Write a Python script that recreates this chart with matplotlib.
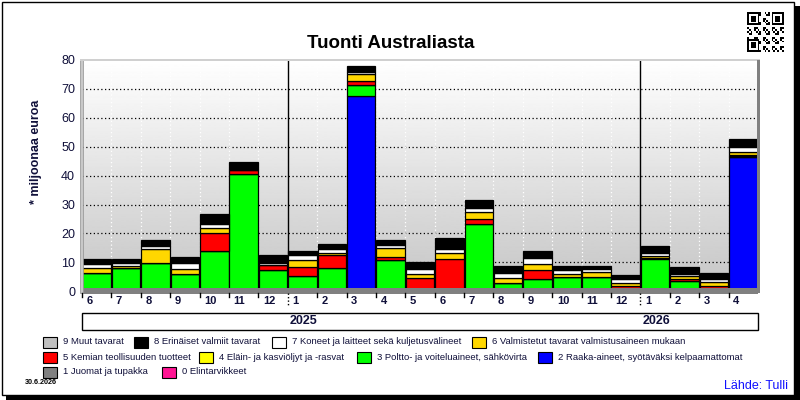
import numpy as np
import matplotlib
matplotlib.use("Agg")
import matplotlib.pyplot as plt
from matplotlib.patches import Rectangle
from matplotlib.lines import Line2D


# kuukaudet 6/2024 - 4/2026
months = [6, 7, 8, 9, 10, 11, 12, 1, 2, 3, 4, 5, 6, 7, 8, 9, 10, 11, 12, 1, 2, 3, 4]
year_labels = ["2025", "2026"]
year_start_index = [7, 19]

# milj. euroa, luettu kuvasta
raaka_aineet = [0, 0, 0, 0, 0, 0, 0, 0, 0, 67.7, 0, 0, 0, 0, 0, 0, 0, 0, 0, 0, 0, 0, 46.4]
poltto = [6.3, 8.0, 9.8, 6.0, 13.9, 40.6, 7.5, 5.4, 8.1, 3.7, 10.7, 0, 0, 23.4, 2.9, 4.3,
          4.8, 4.9, 0, 11.2, 3.4, 0, 0]
elain = [0, 0, 0, 0, 0, 0, 0, 0, 0, 0, 0, 0, 0, 0, 0, 0, 0, 0, 0, 0.3, 0, 0, 0.3]
kemian = [0, 0, 0, 0, 6.4, 1.3, 1.7, 3.0, 4.3, 1.5, 1.2, 4.6, 11.0, 1.5, 0, 2.9,
          0, 0, 2.0, 0, 0.9, 1.9, 0.5]
valmistetut = [1.8, 0.6, 4.9, 1.7, 1.7, 0, 0, 2.3, 1.0, 2.3, 3.2, 1.5, 2.3, 2.7, 1.7, 2.3,
               1.2, 1.9, 0.9, 0.6, 0.9, 1.3, 1.0]
koneet = [1.4, 1.2, 0.9, 2.0, 1.2, 0.4, 0.6, 1.7, 1.1, 0.6, 0.9, 1.6, 1.2, 1.1, 1.7, 1.9,
          1.2, 0.9, 1.5, 1.2, 0.9, 1.2, 1.7]
erinaiset = [1.8, 1.3, 2.0, 2.3, 3.7, 2.5, 2.9, 1.4, 1.7, 2.0, 1.6, 2.6, 4.1, 2.8, 2.5, 2.4,
             1.4, 0.9, 1.2, 2.5, 2.4, 2.0, 2.9]

series = [
    (raaka_aineet, "#0000FF"),
    (poltto, "#00FF00"),
    (elain, "#FFFF00"),
    (kemian, "#FF0000"),
    (valmistetut, "#FFD700"),
    (koneet, "#FFFFFF"),
    (erinaiset, "#000000"),
]

legend_names = [
    "9 Muut tavarat", "8 Erinäiset valmiit tavarat",
    "7 Koneet ja laitteet sekä kuljetusvälineet", "6 Valmistetut tavarat valmistusaineen mukaan",
    "5 Kemian teollisuuden tuotteet", "4 Eläin- ja kasviöljyt ja -rasvat",
    "3 Poltto- ja voiteluaineet, sähkövirta", "2 Raaka-aineet, syötäväksi kelpaamattomat",
    "1 Juomat ja tupakka", "0 Elintarvikkeet",
]
legend_colors = [
    "#C0C0C0", "#000000", "#FFFFFF", "#FFD700",
    "#FF0000", "#FFFF00", "#00FF00", "#0000FF",
    "#808080", "#FF1493",
]
# legendan paikat pikseleinä (vasen reuna, rivin keskikohta)
legend_x = [43, 134, 272, 472, 43, 199, 357, 538, 43, 162]
legend_y = [342, 342, 342, 342, 357, 357, 357, 357, 372, 372]

W, H = 800, 400
FONT = "Liberation Sans"
TXT = "#10103a"


def fx(x):
    return x / W


def fy(y):
    return 1 - y / H


fig = plt.figure(figsize=(8, 4), dpi=100)
fig.patch.set_facecolor("white")

# piirtoalue: 0 -> y=291, 80 -> y=60
ax_top, ax_bottom = 60, 294
ymin = -(ax_bottom - 291.3) / ((291.3 - ax_top) / 80)
ax = fig.add_axes([fx(82), fy(ax_bottom), 676 / W, (ax_bottom - ax_top) / H])
n = len(months)
x = np.arange(n)
ax.set_xlim(-0.5, n - 0.5)
ax.set_ylim(ymin, 80)

# taustan liukuväri
grad = np.linspace(1.0, 0.77, 256).reshape(-1, 1)
ax.imshow(grad, cmap="gray", vmin=0, vmax=1, aspect="auto",
          extent=[-0.5, n - 0.5, ymin, 80], zorder=0)

for v in range(10, 80, 10):
    ax.axhline(v, color="black", lw=0.9, ls=(0, (1, 2)), zorder=1)
for b in range(n - 1):
    if b + 1 in year_start_index:
        ax.axvline(b + 0.5, color="black", lw=1.0, zorder=1)
    else:
        ax.axvline(b + 0.5, color="white", lw=0.9, ls=(0, (1, 2)), zorder=1)

bottom = np.zeros(n)
for values, color in series:
    vals = np.array(values, dtype=float)
    ax.bar(x, vals, width=0.97, bottom=bottom, color=color,
           edgecolor="black", linewidth=0.9, zorder=2)
    bottom += vals

# lattia
ax.axhspan(ymin, 1.0, color="#808080", zorder=3, lw=0)

for s in ax.spines.values():
    s.set_visible(False)
ax.set_xticks([])
ax.set_yticks(range(0, 81, 10))
ax.tick_params(axis="y", length=0, pad=5)
for lab in ax.get_yticklabels():
    lab.set_fontfamily(FONT)
    lab.set_fontsize(9)
    lab.set_color(TXT)

# kehykset
fig.add_artist(Rectangle((fx(80), fy(293)), 3 / W, 233 / H, transform=fig.transFigure,
                         facecolor="#c8c8c8", edgecolor="#909090", lw=0.5))
fig.add_artist(Rectangle((fx(80), fy(61)), 680 / W, 2 / H, transform=fig.transFigure,
                         facecolor="#d0d0d0", lw=0))
fig.add_artist(Rectangle((fx(757), fy(293)), 3 / W, 233 / H, transform=fig.transFigure,
                         facecolor="#808080", lw=0))

# kuukausien jakoviivat ja tekstit
for i, m in enumerate(months):
    xp = 82 + i * 676 / n
    if i in year_start_index:
        fig.add_artist(Line2D([fx(xp), fx(xp)], [fy(293), fy(306)], color="black",
                              lw=1, ls=(0, (1, 1.5))))
    else:
        fig.add_artist(Line2D([fx(xp), fx(xp)], [fy(293), fy(297)], color="black", lw=1))
    fig.text(fx(xp + 4.5), fy(301), str(m), ha="left", va="center",
             fontfamily=FONT, fontsize=8, fontweight="bold", color=TXT)

# vuosirivi
fig.add_artist(Rectangle((fx(82), fy(330)), 676 / W, 17 / H, transform=fig.transFigure,
                         facecolor="white", edgecolor="black", lw=1))
for lab, i in zip(year_labels, year_start_index):
    xp = 82 + i * 676 / n
    fig.text(fx(xp + 2), fy(321.5), lab, ha="left", va="center",
             fontfamily=FONT, fontsize=9, fontweight="bold", color=TXT)

# otsikot
fig.text(fx(391), fy(43), "Tuonti Australiasta", ha="center", va="center",
         fontfamily=FONT, fontsize=13.5, fontweight="bold")
fig.text(fx(36), fy(152), "* miljoonaa euroa", ha="center", va="center", rotation=90,
         fontfamily=FONT, fontsize=9, fontweight="bold", color=TXT)

# selite
for name, color, lx, ly in zip(legend_names, legend_colors, legend_x, legend_y):
    fig.add_artist(Rectangle((fx(lx), fy(ly + 5.5)), 14 / W, 11 / H,
                             transform=fig.transFigure, facecolor=color,
                             edgecolor="black", lw=0.8))
    fig.text(fx(lx + 20), fy(ly), name, ha="left", va="center",
             fontfamily=FONT, fontsize=6.8, color=TXT)

fig.text(fx(25), fy(383), "30.6.2026", ha="left", va="center",
         fontfamily=FONT, fontsize=5.2, fontweight="bold")
fig.text(fx(788), fy(386), "Lähde: Tulli", ha="right", va="center",
         fontfamily=FONT, fontsize=9, color="#1010ff")

# QR-koodin tapainen kuvio
q = 21
qr = np.zeros((q, q))
ii, jj = np.meshgrid(np.arange(q), np.arange(q), indexing="ij")
qr[((ii * 7 + jj * 3 + ii * jj) % 5) < 2] = 1
for r0, c0 in [(0, 0), (0, q - 7), (q - 7, 0)]:
    qr[r0:r0 + 8 if r0 == 0 else r0 + 7, c0:c0 + 7] = 0
    qr[r0:r0 + 7, c0:c0 + 7] = 1
    qr[r0 + 1:r0 + 6, c0 + 1:c0 + 6] = 0
    qr[r0 + 2:r0 + 5, c0 + 2:c0 + 5] = 1
qax = fig.add_axes([fx(747), fy(52), 37 / W, 40 / H])
qax.imshow(qr, cmap="gray_r", interpolation="nearest", aspect="auto")
qax.axis("off")

# ulkokehys varjolla
fig.add_artist(Rectangle((fx(2), fy(395)), 792 / W, 393 / H, transform=fig.transFigure,
                         facecolor="none", edgecolor="black", lw=1))
fig.add_artist(Rectangle((fx(794), fy(400)), 6 / W, 394 / H, transform=fig.transFigure,
                         facecolor="black", lw=0))
fig.add_artist(Rectangle((fx(6), fy(400)), 794 / W, 5 / H, transform=fig.transFigure,
                         facecolor="black", lw=0))

fig.savefig("out.png", dpi=100)
